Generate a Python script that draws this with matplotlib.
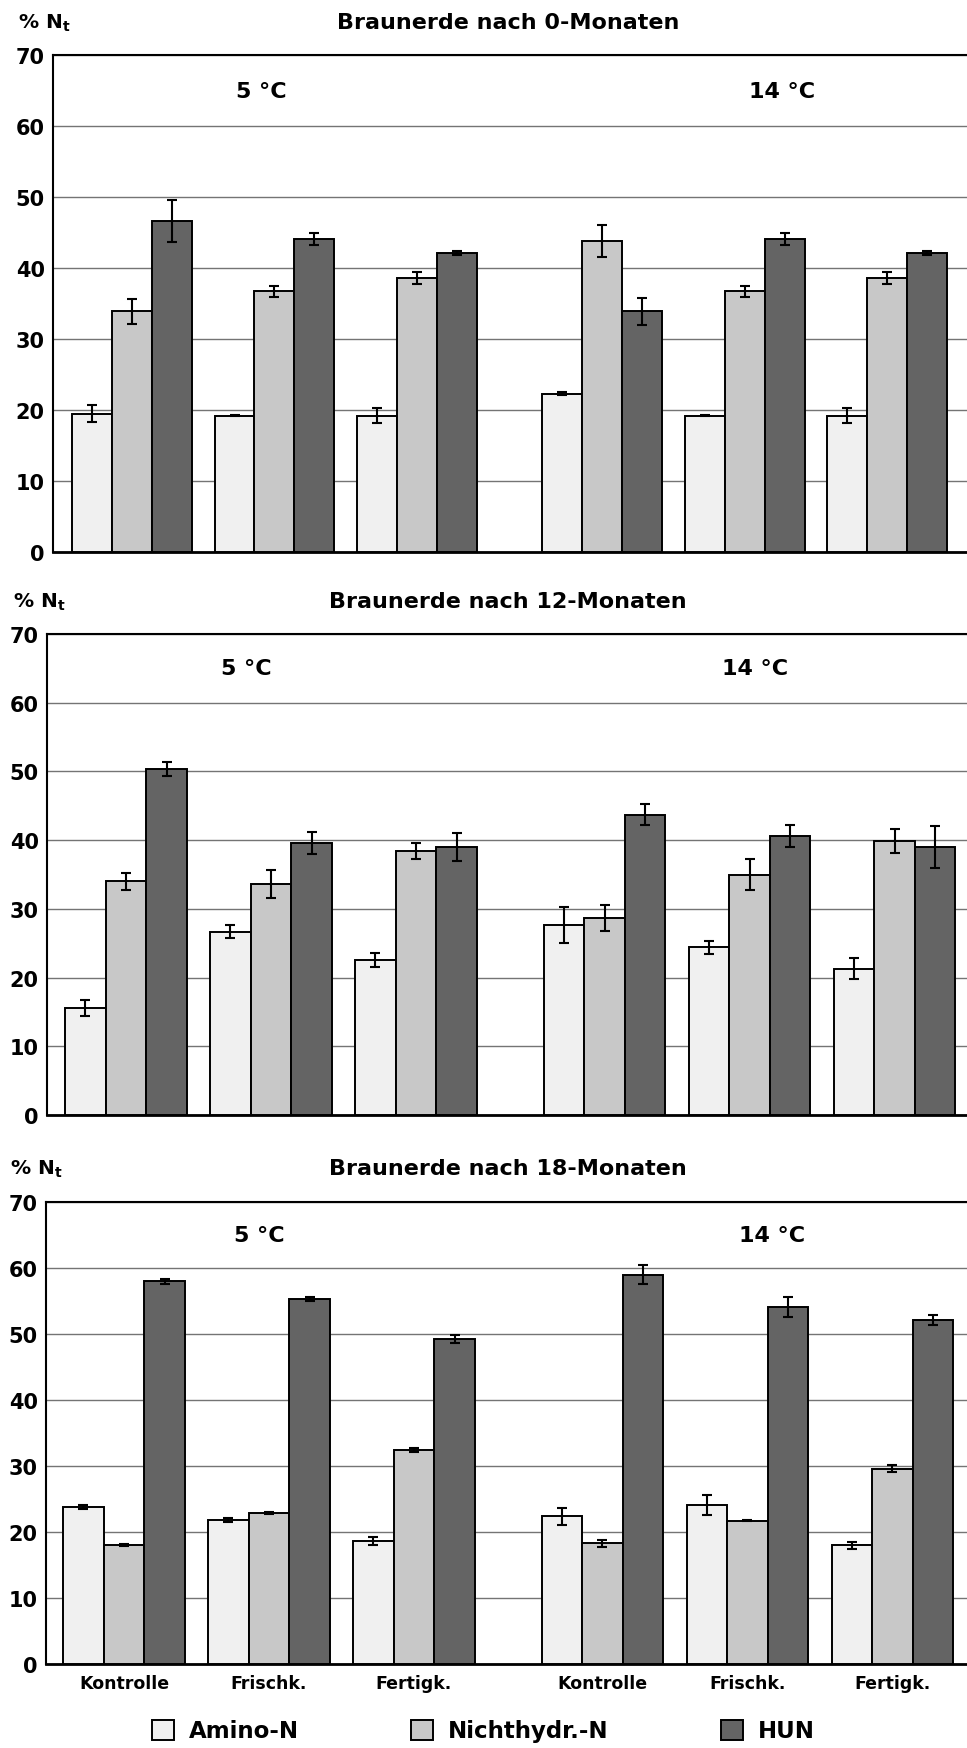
import matplotlib
matplotlib.use("Agg")
import matplotlib.pyplot as plt
from matplotlib.patches import Patch

# Kategorien und Serien
groups = ['Kontrolle', 'Frischk.', 'Fertigk.', 'Kontrolle', 'Frischk.', 'Fertigk.']
temps = ['5 °C', '14 °C']
series = ['Amino-N', 'Nichthydr.-N', 'HUN']
titles = ['Braunerde nach 0-Monaten', 'Braunerde nach 12-Monaten', 'Braunerde nach 18-Monaten']

# Werte (% Nt): je Zeile eine Serie (Amino-N, Nichthydr.-N, HUN)
vals_0 = [[19.5, 19.2, 19.2, 22.3, 19.2, 19.2],
          [33.9, 36.7, 38.6, 43.8, 36.7, 38.6],
          [46.6, 44.1, 42.1, 33.9, 44.1, 42.1]]
errs_0 = [[1.2, 0.1, 1.1, 0.2, 0.1, 1.1],
          [1.8, 0.8, 0.8, 2.2, 0.8, 0.8],
          [3.0, 0.8, 0.25, 1.9, 0.8, 0.25]]

vals_12 = [[15.6, 26.7, 22.6, 27.7, 24.4, 21.3],
           [34.0, 33.6, 38.4, 28.7, 35.0, 39.9],
           [50.3, 39.6, 39.0, 43.7, 40.6, 39.0]]
errs_12 = [[1.2, 0.9, 1.0, 2.6, 0.9, 1.5],
           [1.2, 2.0, 1.2, 1.9, 2.3, 1.7],
           [1.0, 1.6, 2.0, 1.5, 1.6, 3.0]]

vals_18 = [[23.8, 21.8, 18.6, 22.4, 24.1, 18.0],
           [18.1, 22.9, 32.4, 18.3, 21.7, 29.6],
           [58.0, 55.3, 49.2, 59.0, 54.1, 52.1]]
errs_18 = [[0.3, 0.3, 0.6, 1.3, 1.5, 0.5],
           [0.15, 0.2, 0.3, 0.5, 0.1, 0.5],
           [0.4, 0.3, 0.6, 1.4, 1.5, 0.8]]

colors = ['#f0f0f0', '#c8c8c8', '#646464']
W, H = 967, 1749

plt.rcParams['font.family'] = 'DejaVu Sans'
plt.rcParams['font.weight'] = 'bold'
plt.rcParams['mathtext.fontset'] = 'dejavusans'

fig = plt.figure(figsize=(W / 100, H / 100), dpi=100)

# Panel-Layout in Pixeln: links, oben, unten, x-Grenzen, Lage der Temperaturtexte
panels = [
    (53, 56, 553, (-0.554, 5.860), (0.91, 4.56)),
    (47, 635, 1116, (-0.545, 5.800), (0.83, 4.34)),
    (46, 1203, 1665, (-0.538, 5.814), (0.93, 4.47)),
]
data = [(vals_0, errs_0), (vals_12, errs_12), (vals_18, errs_18)]
title_y = [23, 602, 1169]
ylab_x = [18, 13, 10]

x = [0, 1, 2, 3.3, 4.3, 5.3]
bw = 0.28

for i, ((left, top, bottom, xl, tx), (vals, errs)) in enumerate(zip(panels, data)):
    ax = fig.add_axes([left / W, 1 - bottom / H, 1 - left / W, (bottom - top) / H])
    for k in range(3):
        xs = [p + (k - 1) * bw for p in x]
        ax.bar(xs, vals[k], width=bw, color=colors[k], edgecolor='black',
               linewidth=1.4, zorder=3)
        ax.errorbar(xs, vals[k], yerr=errs[k], fmt='none', ecolor='black',
                    elinewidth=1.5, capsize=3.3, capthick=1.5, zorder=4)
    ax.set_xlim(*xl)
    ax.set_ylim(0, 70)
    ax.set_yticks(range(0, 71, 10))
    ax.yaxis.grid(True, color='#747474', linewidth=1.0, zorder=0)
    ax.set_axisbelow(True)
    ax.spines['right'].set_visible(False)
    ax.spines['top'].set_linewidth(1.5)
    ax.spines['left'].set_linewidth(1.5)
    ax.spines['bottom'].set_linewidth(2.0)
    ax.tick_params(axis='y', length=0, pad=6, labelsize=15)
    if i == 2:
        ax.set_xticks(x)
        ax.set_xticklabels(groups, fontsize=12.5, fontweight='bold')
        ax.tick_params(axis='x', length=0, pad=7)
    else:
        ax.set_xticks([])
    for lab in ax.get_yticklabels():
        lab.set_fontweight('bold')
    ax.text(tx[0], 65, temps[0], ha='center', va='center', fontsize=16, fontweight='bold')
    ax.text(tx[1], 65, temps[1], ha='center', va='center', fontsize=16, fontweight='bold')

    fig.text(508 / W, 1 - title_y[i] / H, titles[i], ha='center', va='center',
             fontsize=16, fontweight='bold')
    fig.text(ylab_x[i] / W, 1 - title_y[i] / H, r'% N$_\mathbf{t}$', ha='left',
             va='center', fontsize=14.5, fontweight='bold')

handles = [Patch(facecolor=c, edgecolor='black', linewidth=1.4) for c in colors]
fig.legend(handles, series, loc='center', bbox_to_anchor=(0.5, 1 - 1732 / H), ncol=3,
           frameon=False, prop={'size': 16.5, 'weight': 'bold'}, handlelength=0.95,
           handleheight=0.95, handletextpad=0.65, columnspacing=4.9)

fig.savefig('out.png', dpi=100)
